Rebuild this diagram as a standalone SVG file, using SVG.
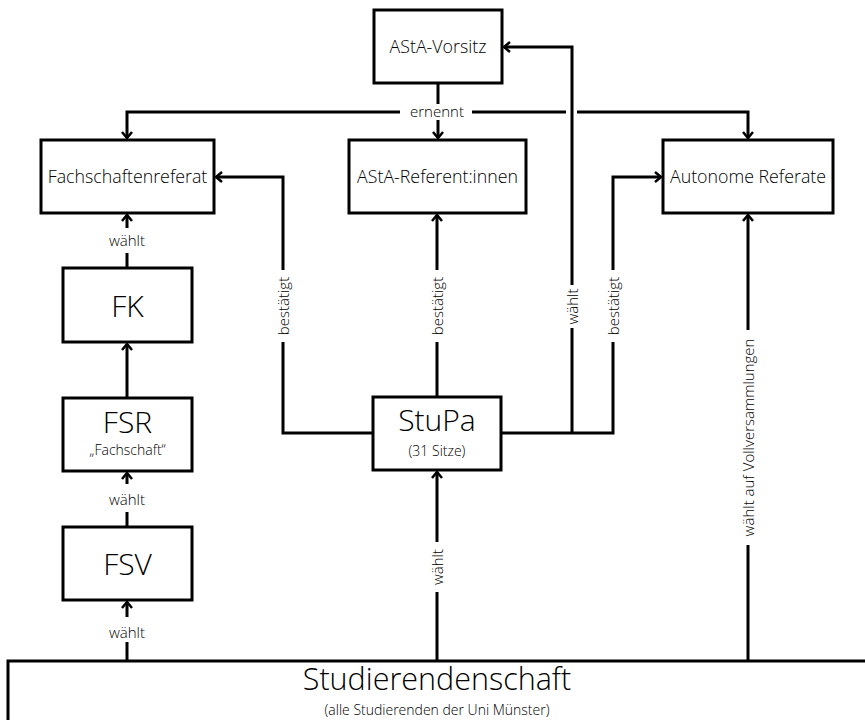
<svg xmlns="http://www.w3.org/2000/svg" width="865" height="720" viewBox="0 0 865 720">
<style>
.box{fill:#fff;stroke:#000;stroke-width:3}
.ln{fill:none;stroke:#000;stroke-width:3}
text{font-family:"Open Sans","Noto Sans","Liberation Sans",sans-serif;font-weight:300;fill:#000;text-anchor:middle}
.n{font-size:17.8px}
.big{font-size:30px}
.sub{font-size:14px}
.lb{font-size:15px}
.bg{fill:#fff}
</style>
<defs>
<marker id="ar" markerUnits="userSpaceOnUse" markerWidth="12" markerHeight="14" refX="7" refY="6" orient="auto" viewBox="0 0 12 12">
<path d="M1,1 L7,6 L1,11" fill="none" stroke="#000" stroke-width="2.5"/>
</marker>
</defs>
<g id="connectors">
<path class="ln" d="M438,83 V138" marker-end="url(#ar)"/>
<path class="ln" d="M438,112 H127 V138" marker-end="url(#ar)"/>
<path class="ln" d="M438,112 H566"/>
<path class="ln" d="M577,112 H748 V138" marker-end="url(#ar)"/>
<path class="ln" d="M572,433 V47 H504" marker-end="url(#ar)"/>
<path class="ln" d="M373,433 H283 V177 H216" marker-end="url(#ar)"/>
<path class="ln" d="M437,397 V215" marker-end="url(#ar)"/>
<path class="ln" d="M501,433 H613 V177 H661" marker-end="url(#ar)"/>
<path class="ln" d="M748,661 V215" marker-end="url(#ar)"/>
<path class="ln" d="M437,661 V472" marker-end="url(#ar)"/>
<path class="ln" d="M127,268 V215" marker-end="url(#ar)"/>
<path class="ln" d="M127,398 V344" marker-end="url(#ar)"/>
<path class="ln" d="M127,527 V473" marker-end="url(#ar)"/>
<path class="ln" d="M127,661 V602" marker-end="url(#ar)"/>
<rect class="bg" x="400" y="104" width="72" height="16"/>
<text class="lb" x="437" y="117">ernennt</text>
<rect class="bg" x="104" y="228" width="46" height="25"/>
<text class="lb" x="127" y="246">wählt</text>
<rect class="bg" x="104" y="484" width="46" height="28"/>
<text class="lb" x="127" y="505">wählt</text>
<rect class="bg" x="104" y="617" width="46" height="25"/>
<text class="lb" x="127" y="638">wählt</text>
<rect class="bg" x="275" y="270" width="16" height="72"/>
<text class="lb" transform="translate(288.5,306) rotate(-90)">bestätigt</text>
<rect class="bg" x="429" y="270" width="16" height="72"/>
<text class="lb" transform="translate(442.5,306) rotate(-90)">bestätigt</text>
<rect class="bg" x="605" y="270" width="16" height="72"/>
<text class="lb" transform="translate(618.5,306) rotate(-90)">bestätigt</text>
<rect class="bg" x="564" y="285" width="16" height="43"/>
<text class="lb" transform="translate(577.5,306.5) rotate(-90)">wählt</text>
<rect class="bg" x="429" y="542" width="16" height="50"/>
<text class="lb" transform="translate(442.5,567) rotate(-90)">wählt</text>
<rect class="bg" x="740" y="330" width="16" height="215"/>
<text class="lb" transform="translate(753.5,437.5) rotate(-90)">wählt auf Vollversammlungen</text>
</g>
<g id="asta-vorsitz">
<rect class="box" x="374" y="10" width="128" height="73"/>
<text class="n" x="438" y="53">AStA-Vorsitz</text>
</g>
<g id="fachschaftenreferat">
<rect class="box" x="41" y="140" width="173" height="73"/>
<text class="n" x="127.5" y="183">Fachschaftenreferat</text>
</g>
<g id="asta-referentinnen">
<rect class="box" x="349" y="140" width="177" height="73"/>
<text class="n" x="437.5" y="183">AStA-Referent:innen</text>
</g>
<g id="autonome-referate">
<rect class="box" x="663" y="140" width="170" height="73"/>
<text class="n" x="748" y="183">Autonome Referate</text>
</g>
<g id="fk">
<rect class="box" x="63" y="268" width="129" height="74"/>
<text class="big" x="127.5" y="317">FK</text>
</g>
<g id="fsr">
<rect class="box" x="63" y="398" width="129" height="73"/>
<text class="big" x="127.5" y="433">FSR</text>
<text class="sub" x="127.5" y="455">„Fachschaft“</text>
</g>
<g id="fsv">
<rect class="box" x="63" y="527" width="129" height="73"/>
<text class="big" x="127.5" y="575">FSV</text>
</g>
<g id="stupa">
<rect class="box" x="373" y="397" width="128" height="73"/>
<text class="big" x="437" y="431">StuPa</text>
<text class="sub" x="437" y="456">(31 Sitze)</text>
</g>
<g id="studierendenschaft">
<rect class="box" x="8" y="661" width="870" height="80"/>
<text x="437" y="690" style="font-size:30.5px">Studierendenschaft</text>
<text x="437" y="715" style="font-size:14px">(alle Studierenden der Uni Münster)</text>
</g>
</svg>
